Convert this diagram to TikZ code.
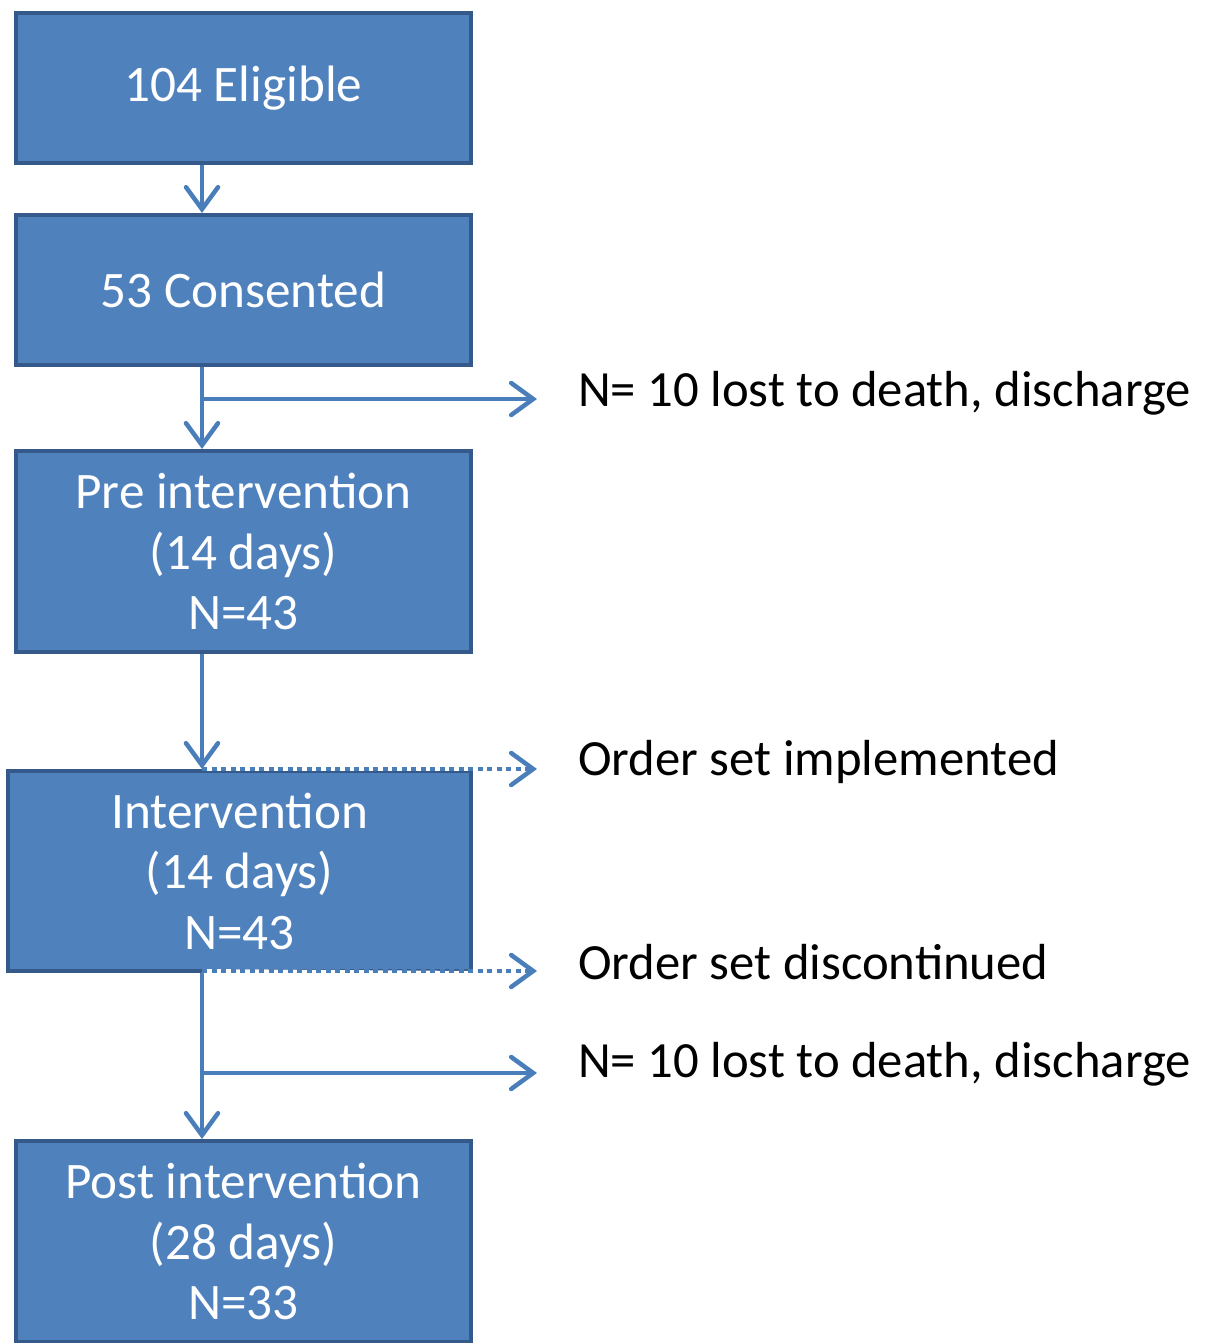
\documentclass[tikz,border=0pt]{standalone}
\usepackage{fontspec}
\setmainfont{Carlito}
\usetikzlibrary{arrows.meta}
\definecolor{boxfill}{HTML}{4F81BD}
\definecolor{boxline}{HTML}{34598A}
\definecolor{arrcol}{HTML}{4A7EBB}
\begin{document}
\begin{tikzpicture}[x=1pt,y=-1pt,
  box/.style={draw=boxline, line width=4pt, fill=boxfill, text=white, align=center,
    font=\fontsize{51.2}{60.5}\selectfont, inner sep=0pt, minimum width=455pt},
  lbl/.style={anchor=west, inner sep=0pt, font=\fontsize{50.7}{60}\selectfont},
  arr/.style={draw=arrcol, line width=4.5pt, -{Straight Barb[length=22pt,width=32pt,line cap=round]}},
  dotarr/.style={arr, dash pattern=on 5pt off 4.5pt},
]
\useasboundingbox (0,0) rectangle (1207,1343);
\coordinate (spine) at (202,0);
\node[box, minimum height=150pt] (b1) at (243.5,88) {104 Eligible};
\node[box, minimum height=150pt] (b2) at (243.5,290) {53 Consented};
\node[box, minimum height=201pt] (b3) at (243.5,551.5) {Pre intervention\\(14 days)\\N=43};
\node[box, minimum height=200pt, minimum width=463pt] (b4) at (239.5,871) {Intervention\\(14 days)\\N=43};
\node[box, minimum height=201pt] (b5) at (243.5,1241.5) {Post intervention\\(28 days)\\N=33};

\node[lbl] (l1) at (578,393) {N= 10 lost to death, discharge};
\node[lbl] (l2) at (578,762) {Order set implemented};
\node[lbl] (l3) at (578,962) {Order set discontinued};
\node[lbl] (l4) at (578,1064) {N= 10 lost to death, discharge};

\coordinate (e1) at (537,399);
\coordinate (e2) at (537,769);
\coordinate (e3) at (537,971);
\coordinate (e4) at (537,1073);

\draw[arr] (b1.south -| spine) -- (b2.north -| spine);
\draw[arr] (b2.south -| spine) -- (b3.north -| spine);
\draw[arr] (spine |- e1) -- (e1);
\draw[arr] (b3.south -| spine) -- (b4.north -| spine);
\draw[arr] (b4.south -| spine) -- (b5.north -| spine);
\draw[arr] (spine |- e4) -- (e4);

\draw[white, line width=4pt] (spine |- e2) -- (b4.north east);
\draw[white, line width=4pt] (spine |- e3) -- (b4.south east);
\draw[dotarr] (spine |- e2) -- (e2);
\draw[dotarr] (spine |- e3) -- (e3);
\end{tikzpicture}
\end{document}
